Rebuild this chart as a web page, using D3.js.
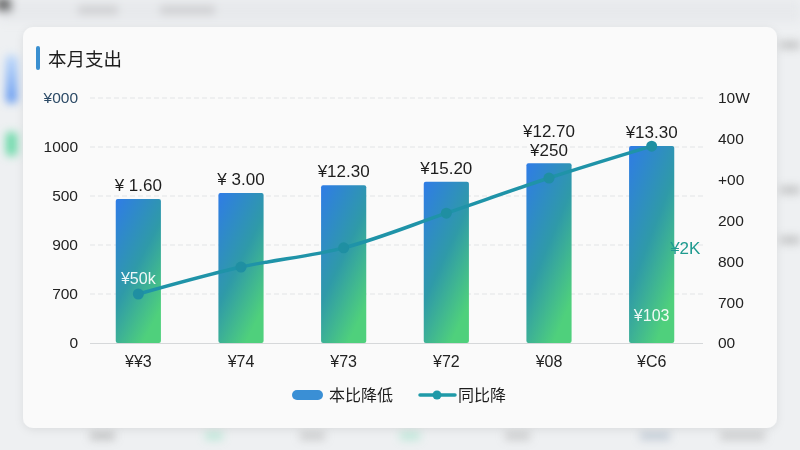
<!DOCTYPE html>
<html><head><meta charset="utf-8">
<script src="https://cdn.jsdelivr.net/npm/d3@7"></script>
<style>
html,body{margin:0;padding:0;background:#eef0f2;}
svg{display:block;font-family:"Liberation Sans","Noto Sans CJK SC",Arial,sans-serif;}
</style></head>
<body><svg id="c" width="800" height="450"></svg>
<script>
// ---- data ----
const categories = ["¥¥3","¥74","¥73","¥72","¥08","¥C6"];
const barValues = [2.94, 3.06, 3.22, 3.29, 3.67, 4.02];
const barLabels = ["¥ 1.60","¥ 3.00","¥12.30","¥15.20","¥12.70","¥13.30"];
const barSubLabels = ["","","","","¥250",""];
const lineValues = [1.20, 1.86, 2.33, 3.18, 4.04, 4.82];
const leftTickLabels = ["0","700","900","500","1000","¥000"];
const rightTickLabels = ["00","700","800","200","+00","400","10W"];
const seriesNames = ["本比降低","同比降"];
const title = "本月支出";

const svg = d3.select("#c");
const defs = svg.append("defs");
const blur = defs.append("filter").attr("id","blur").attr("x","-50%").attr("y","-50%").attr("width","200%").attr("height","200%");
blur.append("feGaussianBlur").attr("stdDeviation",4);
const sh = defs.append("filter").attr("id","shadow").attr("x","-10%").attr("y","-10%").attr("width","120%").attr("height","120%");
sh.append("feDropShadow").attr("dx",0).attr("dy",2).attr("stdDeviation",4).attr("flood-color","#000").attr("flood-opacity",0.08);
const grad = defs.append("linearGradient").attr("id","barGrad").attr("x1","0").attr("y1","0").attr("x2","0.6").attr("y2","1");
grad.append("stop").attr("offset","0%").attr("stop-color","#2f7ce6");
grad.append("stop").attr("offset","55%").attr("stop-color","#2f9aa8");
grad.append("stop").attr("offset","100%").attr("stop-color","#4fd07c");
const sideGrad = defs.append("linearGradient").attr("id","sideGrad").attr("x1",0).attr("y1",0).attr("x2",0).attr("y2",1);
sideGrad.append("stop").attr("offset","0%").attr("stop-color","#bcd8fb");
sideGrad.append("stop").attr("offset","100%").attr("stop-color","#5b93ef");

// background blurred app hints
const bg = svg.append("g").attr("filter","url(#blur)");
bg.append("rect").attr("x",0).attr("y",0).attr("width",800).attr("height",22).attr("fill","#e7e9ec");
bg.append("rect").attr("x",-4).attr("y",-2).attr("width",16).attr("height",14).attr("fill","#444").attr("opacity",0.75);
bg.append("rect").attr("x",78).attr("y",5).attr("width",40).attr("height",10).attr("fill","#bbb").attr("opacity",0.5);
bg.append("rect").attr("x",160).attr("y",5).attr("width",55).attr("height",10).attr("fill","#bbb").attr("opacity",0.5);
bg.append("rect").attr("x",6).attr("y",55).attr("width",11).attr("height",48).attr("rx",4).attr("fill","url(#sideGrad)");
bg.append("rect").attr("x",6).attr("y",132).attr("width",11).attr("height",24).attr("rx",4).attr("fill","#6ad9a8");
[[90,436,25,"#999"],[205,436,18,"#8fe0bf"],[300,436,25,"#aaa"],[400,436,20,"#8fe0bf"],[505,436,25,"#aaa"],[640,436,30,"#9ab"],[720,436,45,"#aaa"]]
  .forEach(d=>bg.append("rect").attr("x",d[0]).attr("y",d[1]-4).attr("width",d[2]).attr("height",8).attr("fill",d[3]).attr("opacity",0.5));
[[780,45],[780,190],[780,240]].forEach(d=>bg.append("rect").attr("x",d[0]).attr("y",d[1]-4).attr("width",20).attr("height",8).attr("fill","#999").attr("opacity",0.5));

// card
svg.append("rect").attr("x",23).attr("y",27).attr("width",754).attr("height",401).attr("rx",10)
  .attr("fill","#fafafa").attr("filter","url(#shadow)");

// title
svg.append("rect").attr("x",36).attr("y",46).attr("width",4).attr("height",24).attr("rx",2).attr("fill","#3a8fd0");
svg.append("text").attr("x",48).attr("y",66).attr("font-size",18.5).attr("fill","#1d1d1d").text(title);

// scales
const x = d3.scaleBand().domain(categories).range([87,703]).paddingInner(0.56).paddingOuter(0.28);
const yL = d3.scaleLinear().domain([0,5]).range([343,98]);
const yR = d3.scaleLinear().domain([0,6]).range([343,98]);

// grid
svg.append("g").selectAll("line").data(d3.range(1,6)).join("line")
  .attr("x1",90).attr("x2",703).attr("y1",d=>yL(d)).attr("y2",d=>yL(d))
  .attr("stroke","#e2e4e6").attr("stroke-width",1).attr("stroke-dasharray","5,3");

// left axis
const axL = svg.append("g").attr("transform","translate(86,0)")
  .call(d3.axisLeft(yL).tickValues(d3.range(0,6)).tickFormat(d=>leftTickLabels[d]).tickSize(0).tickPadding(8));
axL.select(".domain").remove();
axL.selectAll("text").attr("font-size",15.5).attr("fill",(d)=>d===5?"#2c4a66":"#222").attr("font-family","Liberation Sans, Arial, sans-serif");

// right axis
const axR = svg.append("g").attr("transform","translate(712,0)")
  .call(d3.axisRight(yR).tickValues(d3.range(0,7)).tickFormat(d=>rightTickLabels[d]).tickSize(0).tickPadding(6));
axR.select(".domain").remove();
axR.selectAll("text").attr("font-size",15.5).attr("fill","#222").attr("font-family","Liberation Sans, Arial, sans-serif");

// bottom axis
const axB = svg.append("g").attr("transform","translate(0,343)")
  .call(d3.axisBottom(x).tickSize(0).tickPadding(13));
axB.select(".domain").attr("stroke","#d6d8da").attr("d","M90,0.5H703");
axB.selectAll("text").attr("font-size",16).attr("fill","#222").attr("font-family","Liberation Sans, Arial, sans-serif");

// bars
svg.append("g").selectAll("rect").data(barValues).join("rect")
  .attr("x",(d,i)=>x(categories[i])).attr("width",x.bandwidth())
  .attr("y",d=>yL(d)).attr("height",d=>yL(0)-yL(d)).attr("rx",2)
  .attr("fill","url(#barGrad)");

// bar labels
svg.append("g").selectAll("text").data(barLabels).join("text")
  .attr("x",(d,i)=>x(categories[i])+x.bandwidth()/2)
  .attr("y",(d,i)=>yL(barValues[i]) - (barSubLabels[i]?26:8))
  .attr("text-anchor","middle").attr("font-size",17).attr("fill","#1d1d1d").text(d=>d);
svg.append("g").selectAll("text").data(barSubLabels).join("text")
  .attr("x",(d,i)=>x(categories[i])+x.bandwidth()/2)
  .attr("y",(d,i)=>yL(barValues[i]) - 7)
  .attr("text-anchor","middle").attr("font-size",17).attr("fill","#1d1d1d").text(d=>d);

// line
const cx = (i)=>x(categories[i])+x.bandwidth()/2;
const line = d3.line().x((d,i)=>cx(i)).y(d=>yR(d)).curve(d3.curveCatmullRom.alpha(0.5));
svg.append("path").datum(lineValues).attr("d",line).attr("fill","none")
  .attr("stroke","#1f93a8").attr("stroke-width",3.5);
svg.append("g").selectAll("circle").data(lineValues).join("circle")
  .attr("cx",(d,i)=>cx(i)).attr("cy",d=>yR(d)).attr("r",5.5).attr("fill","#1f8fa2");

// inside annotations
svg.append("text").attr("x",cx(0)).attr("y",yR(lineValues[0])-10).attr("text-anchor","middle")
  .attr("font-size",16).attr("fill","#ffffff").attr("opacity",0.92).text("¥50k");
svg.append("text").attr("x",cx(5)).attr("y",yL(0.45)).attr("text-anchor","middle")
  .attr("font-size",16).attr("fill","#ffffff").attr("opacity",0.92).text("¥103");
svg.append("text").attr("x",x(categories[5])+x.bandwidth()+11).attr("y",yR(2.17)).attr("text-anchor","middle")
  .attr("font-size",17).attr("fill","#1f9a8f").text("¥2K");

// legend
const lg = svg.append("g");
lg.append("rect").attr("x",292).attr("y",390).attr("width",31).attr("height",10).attr("rx",5).attr("fill","#3a8fd5");
lg.append("text").attr("x",329).attr("y",401).attr("font-size",16).attr("fill","#1d1d1d").text(seriesNames[0]);
lg.append("line").attr("x1",420).attr("x2",455).attr("y1",395).attr("y2",395).attr("stroke","#1f9aa8").attr("stroke-width",3.5).attr("stroke-linecap","round");
lg.append("circle").attr("cx",437).attr("cy",395).attr("r",4.5).attr("fill","#1f9aa8");
lg.append("text").attr("x",458).attr("y",401).attr("font-size",16).attr("fill","#1d1d1d").text(seriesNames[1]);
</script></body></html>
